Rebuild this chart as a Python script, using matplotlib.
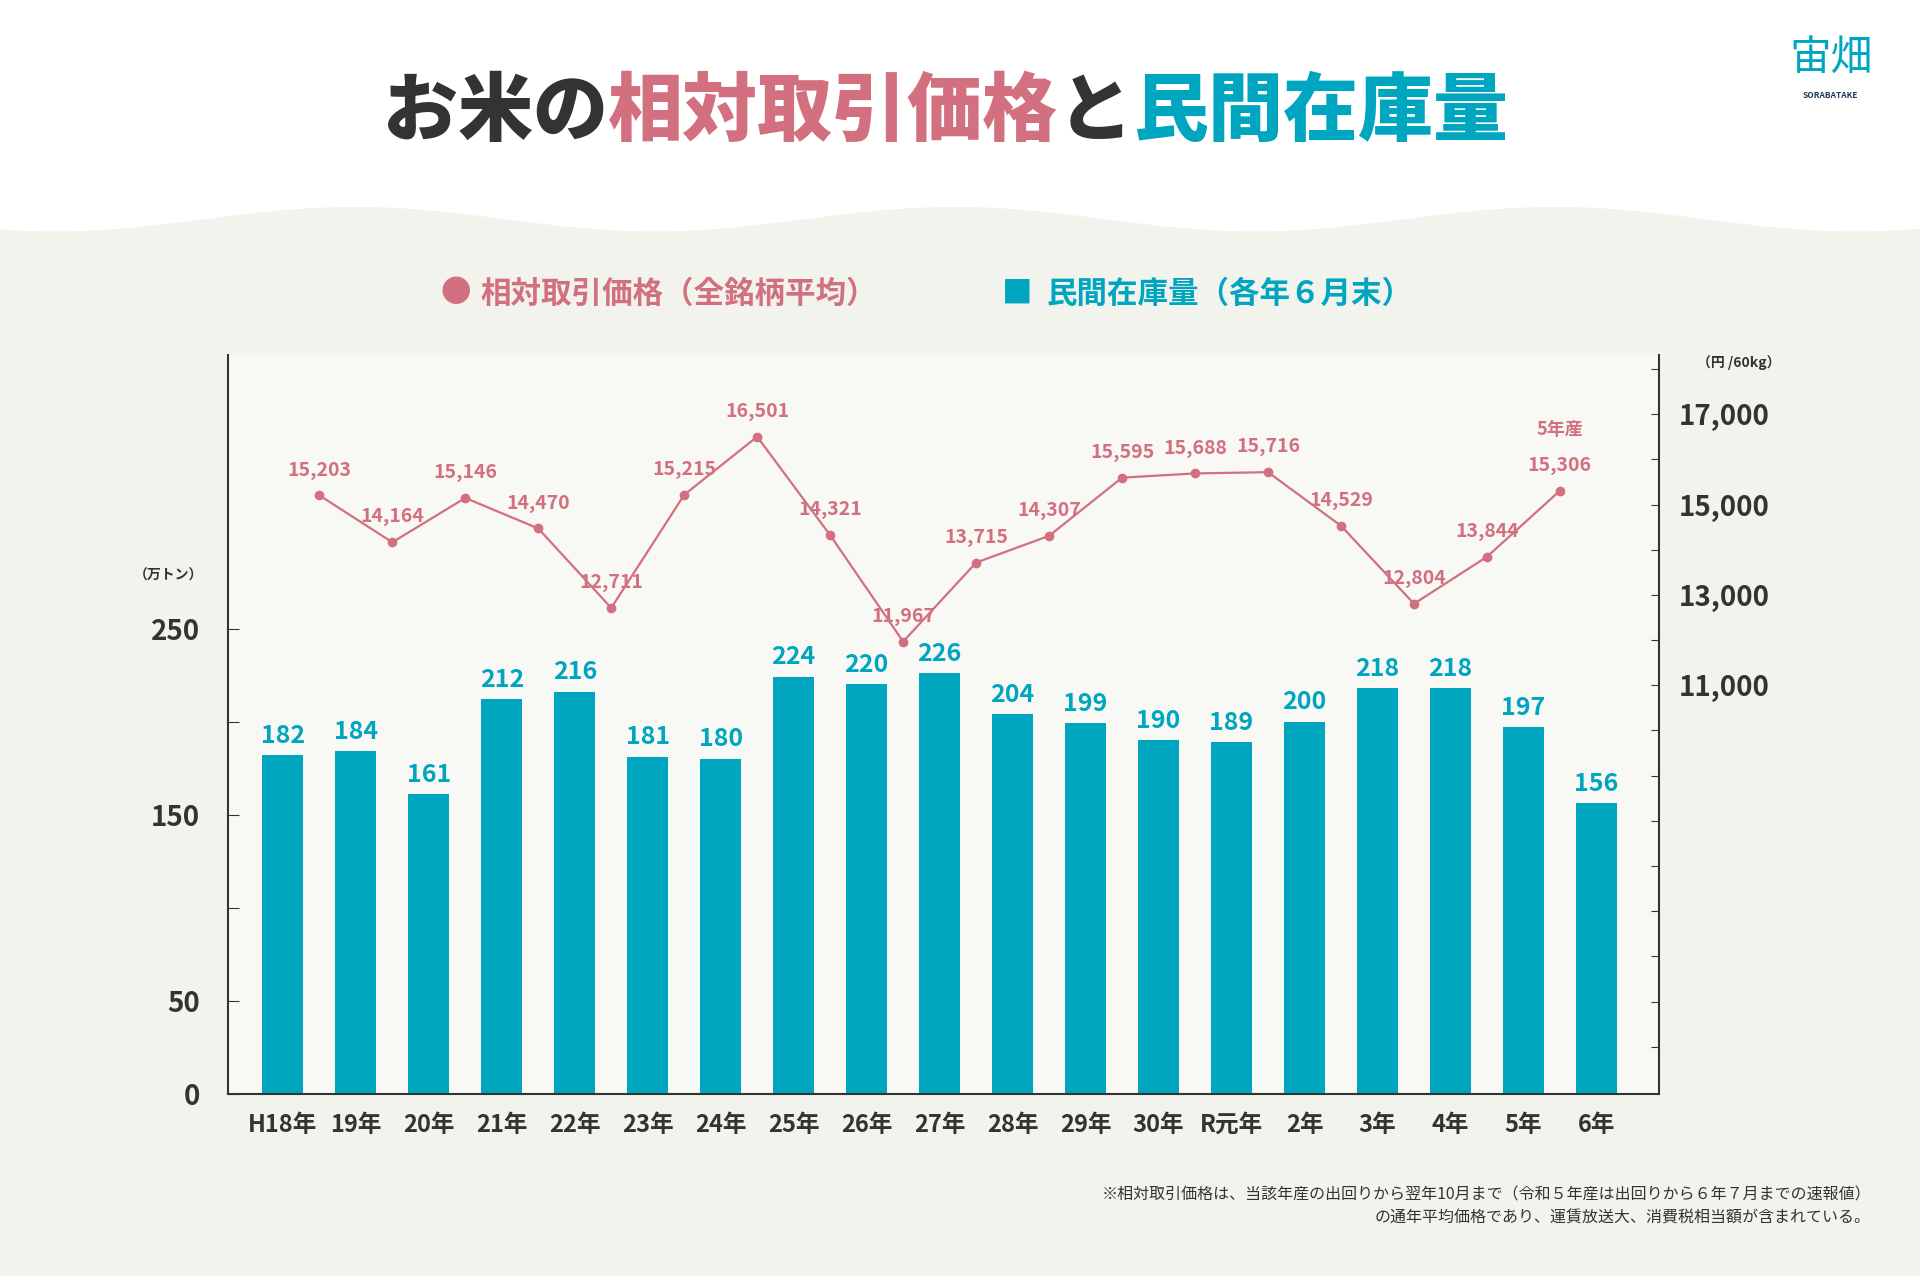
import numpy as np
import matplotlib.pyplot as plt
from matplotlib.ticker import FixedLocator, FuncFormatter

plt.rcParams['font.family'] = ['Noto Sans CJK JP', 'DejaVu Sans']

# data
years = ["H18年", "19年", "20年", "21年", "22年", "23年", "24年", "25年", "26年", "27年",
         "28年", "29年", "30年", "R元年", "2年", "3年", "4年", "5年", "6年"]
stock = [182, 184, 161, 212, 216, 181, 180, 224, 220, 226, 204, 199, 190, 189, 200, 218, 218, 197, 156]
price = [15203, 14164, 15146, 14470, 12711, 15215, 16501, 14321, 11967, 13715,
         14307, 15595, 15688, 15716, 14529, 12804, 13844, 15306]

PINK = "#d2707f"
TEAL = "#00a5c0"
DARK = "#333333"
W, H = 1568, 1042

fig = plt.figure(figsize=(19.2, 12.76), dpi=100)
fig.patch.set_facecolor("#f2f3ed")

# background with wave
bg = fig.add_axes([0, 0, 1, 1], zorder=-5)
bg.set_xlim(0, W); bg.set_ylim(H, 0); bg.axis("off")
xs = np.linspace(0, W, 400)
wave = 178 + 10 * np.sin(xs / W * 2 * np.pi * 3.2 + 1.0)
bg.fill_between(xs, 0, wave, color="white")

def fx(x): return x / W
def fy(y): return 1 - y / H

# title with coloured pieces
parts = [("お米の", DARK), ("相対取引価格", PINK), ("と", DARK), ("民間在庫量", TEAL)]
r = fig.canvas.get_renderer()
tmp = [fig.text(0, 0, s, fontsize=54, fontweight="heavy") for s, _ in parts]
widths = [t.get_window_extent(r).width / fig.bbox.width for t in tmp]
for t in tmp: t.remove()
x0 = 0.4925 - sum(widths) / 2
for (s, c), w in zip(parts, widths):
    fig.text(x0, fy(92), s, fontsize=54, fontweight="heavy", color=c, va="center")
    x0 += w

# logo
fig.text(fx(1495), fy(48), "宙畑", fontsize=30, color=TEAL, ha="center", va="center", style="italic")
fig.text(fx(1495), fy(78), "SORABATAKE", fontsize=6, color="#1f3a5a", ha="center", va="center", fontweight="bold")

# legend
fig.text(fx(360), fy(240), "●", fontsize=22, color=PINK, va="center")
fig.text(fx(392), fy(240), "相対取引価格（全銘柄平均）", fontsize=22, color=PINK, va="center", fontweight="bold")
fig.text(fx(818), fy(240), "■", fontsize=22, color=TEAL, va="center")
fig.text(fx(855), fy(240), "民間在庫量（各年６月末）", fontsize=22, color=TEAL, va="center", fontweight="bold")

# axes
ax = fig.add_axes([fx(186), fy(893), fx(1355) - fx(186), fy(290) - fy(893)])
ax.set_facecolor("#f8f8f4")
x = np.arange(len(years))
ax.bar(x, stock, width=0.56, color=TEAL, zorder=2)
for xi, v in zip(x, stock):
    ax.text(xi, v + 4, str(v), ha="center", va="bottom", fontsize=18, color=TEAL, fontweight="bold")
ax.set_xlim(-0.755, 18.86)
ax.set_ylim(0, 397)
ax.yaxis.set_major_locator(FixedLocator([0, 50, 100, 150, 200, 250]))
ax.yaxis.set_major_formatter(FuncFormatter(lambda v, p: "" if v in (100, 200) else f"{int(v)}"))
ax.tick_params(axis="y", direction="in", length=8, labelsize=20, colors=DARK, pad=20)
for lbl in ax.get_yticklabels():
    lbl.set_fontweight("bold")
ax.set_xticks(x)
ax.set_xticklabels(years, fontsize=17, fontweight="bold", color=DARK)
ax.tick_params(axis="x", length=0, pad=14)
for s in ["top", "right"]:
    ax.spines[s].set_visible(False)
ax.spines["left"].set_color(DARK)
ax.spines["bottom"].set_color(DARK)
ax.spines["left"].set_linewidth(1.5)
ax.spines["bottom"].set_linewidth(1.5)

ax2 = ax.twinx()
ax2.set_ylim(1966, 18306)
px = x[:len(price)] + 0.5
ax2.plot(px, price, color=PINK, lw=1.6, marker="o", ms=6, zorder=3)
for xi, v in zip(px, price):
    ax2.text(xi, v + 350, f"{v:,}", ha="center", va="bottom", fontsize=14, color=PINK, fontweight="bold")
ax2.text(px[-1], price[-1] + 1150, "5年産", ha="center", va="bottom", fontsize=13, color=PINK, fontweight="bold")
ax2.yaxis.set_major_locator(FixedLocator(list(range(3000, 18001, 1000))))
ax2.yaxis.set_major_formatter(FuncFormatter(lambda v, p: f"{int(v):,}" if v in (11000, 13000, 15000, 17000) else ""))
ax2.tick_params(axis="y", direction="in", length=6, labelsize=20, colors=DARK, pad=14)
for lbl in ax2.get_yticklabels():
    lbl.set_fontweight("bold")
for s in ["top", "left", "bottom"]:
    ax2.spines[s].set_visible(False)
ax2.spines["right"].set_color(DARK)
ax2.spines["right"].set_linewidth(1.5)

fig.text(fx(138), fy(470), "（万トン）", fontsize=10, color=DARK, ha="center", va="center", fontweight="bold")
fig.text(fx(1420), fy(296), "（円 /60kg）", fontsize=10, color=DARK, ha="center", va="center", fontweight="bold")

fig.text(fx(1528), fy(976), "※相対取引価格は、当該年産の出回りから翌年10月まで（令和５年産は出回りから６年７月までの速報値）",
         fontsize=11.5, color=DARK, ha="right", va="center")
fig.text(fx(1528), fy(995), "の通年平均価格であり、運賃放送大、消費税相当額が含まれている。",
         fontsize=11.5, color=DARK, ha="right", va="center")

fig.savefig("out.png", dpi=100, facecolor=fig.get_facecolor())
